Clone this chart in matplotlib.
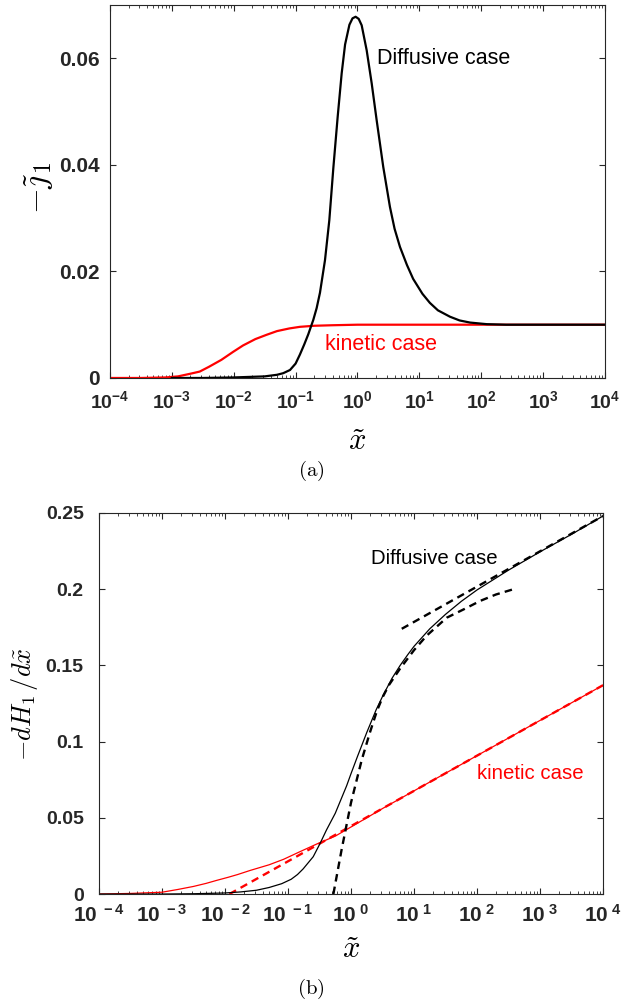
import numpy as np
import matplotlib.pyplot as plt
from matplotlib.ticker import LogLocator, NullFormatter

# ---- panel (a): -j1 vs x (log10 x values)
a_diff_lgx = [-3.0, -2.5, -2.0, -1.5, -1.3, -1.2, -1.09, -1.0, -0.93, -0.86, -0.795, -0.714,
              -0.66, -0.606, -0.525, -0.455, -0.39, -0.32, -0.255, -0.2, -0.13, -0.08, -0.03,
              0.02, 0.068, 0.149, 0.23, 0.31, 0.417, 0.525, 0.6, 0.687, 0.8, 0.9, 1.05, 1.17,
              1.3, 1.495, 1.65, 1.82, 2.09, 2.4, 3.0, 4.0]
a_diff_y = [0.0, 0.0, 0.0001, 0.0003, 0.0006, 0.0009, 0.0015, 0.0027, 0.0044, 0.0063, 0.0082,
            0.0109, 0.0131, 0.0160, 0.0221, 0.0296, 0.0394, 0.0490, 0.0572, 0.0626, 0.0663,
            0.0675, 0.0678, 0.0674, 0.0662, 0.0615, 0.0553, 0.0484, 0.0396, 0.0321, 0.0280,
            0.0246, 0.0212, 0.0186, 0.0158, 0.0141, 0.0127, 0.0115, 0.0108, 0.0104, 0.0101,
            0.0100, 0.0100, 0.0100]
a_kin_lgx = [-4.0, -3.5, -3.1, -2.9, -2.7, -2.55, -2.4, -2.2, -2.01, -1.85, -1.65, -1.47,
             -1.3, -1.1, -0.93, -0.7, -0.4, 0.0, 4.0]
a_kin_y = [0.0, 0.0, 0.0001, 0.0003, 0.0008, 0.0012, 0.0021, 0.0034, 0.0049, 0.0061, 0.0073,
           0.0081, 0.0088, 0.0093, 0.0096, 0.0098, 0.0099, 0.0100, 0.0100]

# ---- panel (b): -dH1/dx vs x
b_diff_lgx = [-4.0, -3.0, -2.5, -2.0, -1.75, -1.5, -1.3, -1.1, -0.95, -0.85, -0.76, -0.6,
              -0.49, -0.39, -0.25, -0.15, -0.07, 0.0, 0.1, 0.25, 0.4, 0.51, 0.65, 0.78, 0.9,
              1.0, 1.25, 1.5, 1.75, 2.0, 2.5, 3.0, 3.5, 4.0]
b_diff_y = [0.0, 0.0, 0.0002, 0.0007, 0.0014, 0.0025, 0.0043, 0.0068, 0.0097, 0.0128, 0.0165,
            0.0245, 0.0333, 0.0420, 0.0530, 0.0630, 0.0710, 0.0790, 0.0900, 0.1060, 0.1210,
            0.1305, 0.1415, 0.1500, 0.1570, 0.1625, 0.1740, 0.1835, 0.1920, 0.1995, 0.2125,
            0.2245, 0.2360, 0.2480]
b_diff_small_lgx = [-0.28, -0.15, 0.0, 0.17, 0.3, 0.41, 0.5, 0.6, 0.78, 1.0, 1.2, 1.52, 1.8,
                    2.05, 2.3, 2.58]
b_diff_small_y = [0.0, 0.029, 0.060, 0.088, 0.106, 0.120, 0.129, 0.137, 0.148, 0.160, 0.1695,
                  0.1813, 0.187, 0.1923, 0.1965, 0.200]
b_diff_large_lgx = [0.805, 4.0]
b_diff_large_y = [0.174, 0.248]
b_kin_lgx = [-4.0, -3.5, -3.0, -2.75, -2.5, -2.3, -2.13, -1.95, -1.8, -1.6, -1.3, -1.07, -0.8,
             -0.54, -0.25, 0.0, 0.5, 1.0, 2.0, 3.0, 4.0]
b_kin_y = [0.0, 0.0004, 0.0012, 0.0030, 0.0050, 0.0070, 0.0090, 0.0110, 0.0128, 0.0155,
           0.0192, 0.0228, 0.0280, 0.0329, 0.0380, 0.0440, 0.0561, 0.0677, 0.0908, 0.1139,
           0.137]
b_kin_asym_lgx = [-1.93, 4.0]
b_kin_asym_y = [0.0, 0.137]

decades = [1e-4, 1e-3, 1e-2, 1e-1, 1e0, 1e1, 1e2, 1e3, 1e4]
exps = ['-4', '-3', '-2', '-1', '0', '1', '2', '3', '4']

plt.rcParams['mathtext.fontset'] = 'custom'
plt.rcParams['mathtext.rm'] = 'Liberation Sans:bold'
plt.rcParams['mathtext.bf'] = 'Liberation Sans:bold'
plt.rcParams['mathtext.it'] = 'Liberation Sans:italic:bold'
plt.rcParams['font.family'] = 'Liberation Sans'
plt.rcParams['lines.solid_joinstyle'] = 'round'

AX = '#262626'


def style(ax, xlab, ticksize):
    ax.set_xscale('log')
    ax.set_xlim(1e-4, 1e4)
    ax.set_xticks(decades, xlab)
    ax.xaxis.set_minor_locator(LogLocator(base=10, subs=np.arange(2, 10), numticks=30))
    ax.xaxis.set_minor_formatter(NullFormatter())
    ax.tick_params(which='both', direction='in', top=True, right=True, color=AX,
                   labelcolor=AX)
    ax.tick_params(which='major', length=4.5, width=0.8)
    ax.tick_params(which='minor', length=2.3, width=0.6)
    for s in ax.spines.values():
        s.set_color(AX)
        s.set_linewidth(0.8)
    for lab in ax.get_yticklabels():
        lab.set_fontweight('bold')
        lab.set_fontsize(ticksize)


fig = plt.figure(figsize=(6.22, 10.05), dpi=100)

# ---------------- (a)
ax1 = fig.add_axes([0.1768, 0.6239, 0.7958, 0.3711])
ax1.plot(10 ** np.array(a_kin_lgx), a_kin_y, color='red', lw=1.6)
ax1.plot(10 ** np.array(a_diff_lgx), a_diff_y, color='black', lw=1.6)
ax1.set_ylim(0, 0.07)
ax1.set_yticks([0, 0.02, 0.04, 0.06], ['0', '0.02', '0.04', '0.06'])
style(ax1, [r'$\mathbf{10^{%s}}$' % e for e in exps], 15)
ax1.tick_params(axis='x', labelsize=14, pad=9)
ax1.tick_params(axis='y', pad=7)
ax1.text(2.07, 0.0599, 'Diffusive case', fontsize=15.5, color='black', ha='left', va='center')
ax1.text(0.30, 0.0062, 'kinetic case', fontsize=15.5, color='red', ha='left', va='center')
ax1.set_ylabel(r'$-\tilde{\jmath}_1$', fontsize=24, math_fontfamily='cm', va='center')
ax1.yaxis.set_label_coords(-0.143, 0.509)
ax1.set_xlabel(r'$\tilde{x}$', fontsize=22, math_fontfamily='cm', va='center')
ax1.xaxis.set_label_coords(0.5, -0.172)
fig.text(311 / 622, 1 - 471 / 1005, r'$\mathrm{(a)}$', fontsize=15, math_fontfamily='cm',
         ha='center', va='center')

# ---------------- (b)
ax2 = fig.add_axes([0.1592, 0.1104, 0.8103, 0.3792])
ax2.plot(10 ** np.array(b_kin_lgx), b_kin_y, color='red', lw=0.9)
ax2.plot(10 ** np.array(b_kin_asym_lgx), b_kin_asym_y, color='red', lw=1.7, dashes=(3.2, 2.2))
ax2.plot(10 ** np.array(b_diff_lgx), b_diff_y, color='black', lw=0.9)
ax2.plot(10 ** np.array(b_diff_small_lgx), b_diff_small_y, color='black', lw=1.7,
         dashes=(3.2, 2.2))
ax2.plot(10 ** np.array(b_diff_large_lgx), b_diff_large_y, color='black', lw=1.7,
         dashes=(3.2, 2.2))
ax2.set_ylim(0, 0.25)
ax2.set_yticks([0, 0.05, 0.1, 0.15, 0.2, 0.25], ['0', '0.05', '0.1', '0.15', '0.2', '0.25'])
style(ax2, [r'$\mathbf{10}^{\mathbf{\ %s}}$' % e for e in exps], 14)
ax2.tick_params(axis='x', labelsize=15, pad=7)
ax2.tick_params(axis='y', pad=11)
ax2.text(2.06, 0.2198, 'Diffusive case', fontsize=14.7, color='black', ha='left', va='center')
ax2.text(99, 0.0794, 'kinetic case', fontsize=14.7, color='red', ha='left', va='center')
ax2.set_ylabel(r'$-dH_1\,/d\tilde{x}$', fontsize=19, math_fontfamily='cm', va='center')
ax2.yaxis.set_label_coords(-0.148, 0.499)
ax2.set_xlabel(r'$\tilde{x}$', fontsize=22, math_fontfamily='cm', va='center')
ax2.xaxis.set_label_coords(0.5, -0.147)
fig.text(311 / 622, 1 - 989 / 1005, r'$\mathrm{(b)}$', fontsize=15, math_fontfamily='cm',
         ha='center', va='center')

fig.savefig('out.png', dpi=100)
